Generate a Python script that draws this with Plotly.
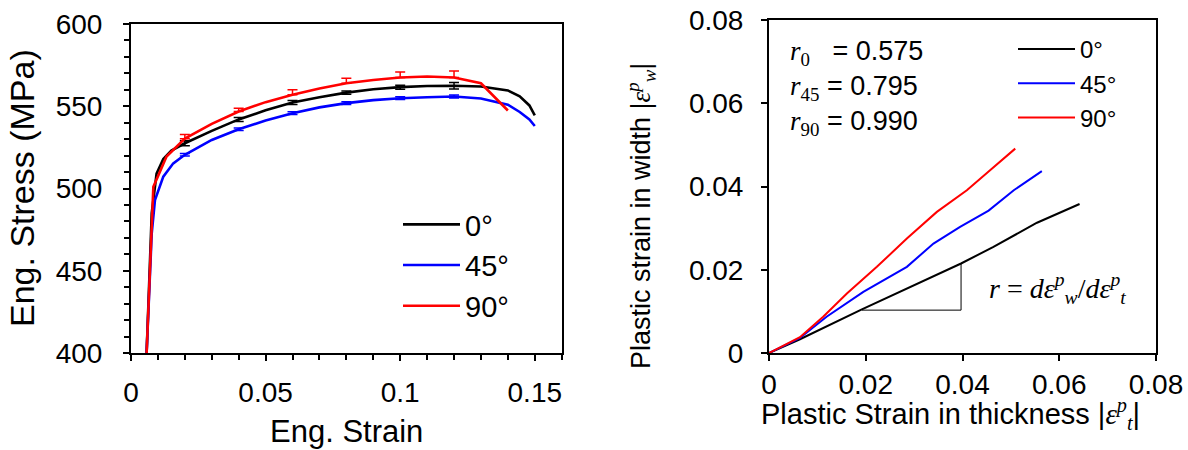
import plotly.graph_objects as go

# ---------------- Left: engineering stress-strain ----------------
strain_0 = [0.0058, 0.0077, 0.0095, 0.012, 0.015, 0.02, 0.03, 0.04, 0.05, 0.06, 0.07,
            0.08, 0.09, 0.10, 0.11, 0.12, 0.13, 0.14, 0.1444, 0.148, 0.15]
stress_0 = [400, 485, 509, 518, 523, 527.5, 535, 542, 547.5, 552.3, 555.5,
            558.3, 560.3, 561.6, 562.3, 562.5, 562, 559.6, 556, 550.5, 544.5]

strain_45 = [0.0058, 0.0077, 0.0089, 0.012, 0.0157, 0.02, 0.03, 0.04, 0.05, 0.06, 0.07,
             0.08, 0.09, 0.10, 0.11, 0.12, 0.13, 0.14, 0.1444, 0.148, 0.15]
stress_45 = [400, 472.7, 493, 507.2, 515.3, 520.5, 529.5, 536, 541.3, 545.8, 549.3,
             551.9, 553.7, 554.9, 555.5, 555.9, 554.7, 551, 546.5, 542, 538]

strain_90 = [0.0058, 0.0083, 0.0132, 0.02, 0.03, 0.04, 0.05, 0.06, 0.07, 0.08, 0.09,
             0.10, 0.11, 0.12, 0.13, 0.14]
stress_90 = [400, 501, 519.4, 530.3, 539.3, 546.8, 552.5, 557, 560.8, 564, 566,
             567.5, 568.1, 567.5, 564, 547.4]

err_strain = [0.02, 0.04, 0.06, 0.08, 0.10, 0.12]
err_mean_0 = [527.5, 542, 552.3, 558.3, 561.6, 562.5]
err_0 = [1.5, 1.2, 1.2, 1.0, 1.2, 2.0]
err_mean_45 = [520.5, 536, 545.8, 551.9, 554.9, 555.9]
err_45 = [0.8, 0.8, 0.8, 0.8, 0.8, 0.9]
err_mean_90 = [530.3, 546.8, 557, 564, 567.5, 567.5]
err_90_up = [2.6, 2.0, 3.0, 3.0, 3.3, 4.0]

# ---------------- Right: plastic strain width vs thickness ----------------
thick_0 = [0, 0.0064, 0.0192, 0.0264, 0.0397, 0.0464, 0.0554, 0.0642]
width_0 = [0, 0.0033, 0.0105, 0.0143, 0.0215, 0.0255, 0.0313, 0.0358]

thick_45 = [0, 0.0064, 0.0119, 0.0195, 0.0285, 0.034, 0.0395, 0.0454, 0.0506, 0.0564]
width_45 = [0, 0.0036, 0.0087, 0.0147, 0.0207, 0.0263, 0.0303, 0.0342, 0.0391, 0.0437]

thick_90 = [0, 0.0064, 0.0112, 0.0161, 0.0223, 0.0285, 0.0347, 0.0409, 0.0457, 0.0509]
width_90 = [0, 0.0038, 0.0087, 0.0143, 0.0207, 0.0275, 0.0339, 0.0391, 0.0439, 0.0491]

# slope triangle (data coordinates)
tri_x = [0.0192, 0.0397, 0.0397]
tri_y = [0.0103, 0.0103, 0.0215]

labels = ["0°", "45°", "90°"]
colors = ["#000000", "#0000FF", "#FF0000"]
r_names = ["0", "45", "90"]
r_values = ["0.575", "0.795", "0.990"]

W, H = 1188, 450
FONT = "Liberation Sans, Arial, sans-serif"
SERIF = "Liberation Serif, DejaVu Serif, serif"

fig = go.Figure()

# error bars
for xs, ys, e_up, e_dn, c in [
    (err_strain, err_mean_0, err_0, err_0, colors[0]),
    (err_strain, err_mean_45, err_45, err_45, colors[1]),
    (err_strain, err_mean_90, err_90_up, [0] * 6, colors[2]),
]:
    fig.add_trace(go.Scatter(
        x=xs, y=ys, mode="markers", marker=dict(size=1, color=c, opacity=0),
        error_y=dict(type="data", symmetric=False, array=e_up, arrayminus=e_dn,
                     color=c, thickness=1.5, width=5),
        showlegend=False, hoverinfo="skip", xaxis="x", yaxis="y"))

for xs, ys, name, c in [(strain_0, stress_0, labels[0], colors[0]),
                        (strain_45, stress_45, labels[1], colors[1]),
                        (strain_90, stress_90, labels[2], colors[2])]:
    fig.add_trace(go.Scatter(x=xs, y=ys, mode="lines", name=name,
                             line=dict(color=c, width=2.6),
                             xaxis="x", yaxis="y", legend="legend"))

for xs, ys, name, c in [(thick_0, width_0, labels[0], colors[0]),
                        (thick_45, width_45, labels[1], colors[1]),
                        (thick_90, width_90, labels[2], colors[2])]:
    fig.add_trace(go.Scatter(x=xs, y=ys, mode="lines", name=name,
                             line=dict(color=c, width=2),
                             xaxis="x2", yaxis="y2", legend="legend2"))

fig.add_trace(go.Scatter(x=tri_x, y=tri_y, mode="lines",
                         line=dict(color="#000000", width=1),
                         showlegend=False, hoverinfo="skip", xaxis="x2", yaxis="y2"))

def px(x):
    return x / W

def py(y):
    return 1 - y / H

axis_common = dict(showline=True, linecolor="black", linewidth=2, mirror=True,
                   ticks="outside", tickcolor="black", tickwidth=2, ticklen=6,
                   showgrid=False, zeroline=False, automargin=False,
                   tickfont=dict(family=FONT, size=28, color="black"))

fig.update_layout(
    template="none",
    width=W, height=H,
    margin=dict(l=0, r=0, t=0, b=0, pad=0, autoexpand=False),
    paper_bgcolor="white", plot_bgcolor="white",
    font=dict(family=FONT, color="black"),
    xaxis=dict(domain=[px(131), px(561.7)], range=[0, 0.16],
               tickvals=[0, 0.05, 0.1, 0.15], ticktext=["0", "0.05", "0.1", "0.15"],
               minor=dict(dtick=0.01, tick0=0, ticks="outside", ticklen=5,
                          tickcolor="black", tickwidth=1.5),
               ticklabelstandoff=7,
               anchor="y", **axis_common),
    yaxis=dict(domain=[py(353), py(24)], range=[400, 600], dtick=50,
               minor=dict(dtick=10, tick0=400, ticks="outside", ticklen=5,
                          tickcolor="black", tickwidth=1.5),
               ticklabelstandoff=15,
               anchor="x", **axis_common),
    xaxis2=dict(domain=[px(769), px(1156)], range=[0, 0.08], dtick=0.02,
                ticklabelstandoff=-1,
                anchor="y2", **axis_common),
    yaxis2=dict(domain=[py(353), py(20)], range=[0, 0.08], dtick=0.02,
                ticklabelstandoff=12,
                anchor="x2", **axis_common),
    legend=dict(x=px(398), y=py(199), xanchor="left", yanchor="top",
                bgcolor="rgba(0,0,0,0)", font=dict(family=FONT, size=29, color="black"),
                itemwidth=57, tracegroupgap=0),
    legend2=dict(x=px(1013), y=py(27), xanchor="left", yanchor="top",
                 bgcolor="rgba(0,0,0,0)", font=dict(family=FONT, size=24, color="black"),
                 itemwidth=57, tracegroupgap=0),
    showlegend=True,
)

ann = []
# axis titles
ann.append(dict(text="Eng. Strain", x=px(346), y=py(431), xref="paper", yref="paper",
                showarrow=False, xanchor="center", yanchor="middle",
                font=dict(family=FONT, size=31, color="black")))
ann.append(dict(text="Eng. Stress (MPa)", x=px(22), y=py(188), xref="paper", yref="paper",
                showarrow=False, xanchor="center", yanchor="middle", textangle=-90,
                font=dict(family=FONT, size=34, color="black")))
ann.append(dict(text=f"Plastic Strain in thickness |<span style='font-family:{SERIF}'><i>ε</i><sup><i>p</i></sup><sub><i>t</i></sub></span>|",
                x=px(950), y=py(414), xref="paper", yref="paper",
                showarrow=False, xanchor="center", yanchor="middle",
                font=dict(family=FONT, size=29, color="black")))
ann.append(dict(text=f"Plastic strain in width |<span style='font-family:{SERIF}'><i>ε</i><sup><i>p</i></sup><sub><i>w</i></sub></span>|",
                x=px(641), y=py(216), xref="paper", yref="paper",
                showarrow=False, xanchor="center", yanchor="middle", textangle=-90,
                font=dict(family=FONT, size=27, color="black")))
# r-values
for i, (rn, rv) in enumerate(zip(r_names, r_values)):
    gap = "  " if rn == "0" else ""
    ann.append(dict(text=f"<span style='font-family:{SERIF}'><i>r</i><sub>{rn}</sub></span>{gap} = {rv}",
                    x=px(788), y=py(53 + 35 * i), xref="paper", yref="paper",
                    showarrow=False, xanchor="left", yanchor="middle",
                    font=dict(family=FONT, size=27, color="black")))
ann.append(dict(text="<i>r</i> = <i>dε</i><sup><i>p</i></sup><sub><i>w</i></sub>/<i>dε</i><sup><i>p</i></sup><sub><i>t</i></sub>",
                x=px(1057), y=py(288), xref="paper", yref="paper",
                showarrow=False, xanchor="center", yanchor="middle",
                font=dict(family=SERIF, size=28, color="black")))
fig.update_layout(annotations=ann)

fig.write_html("out.html")
